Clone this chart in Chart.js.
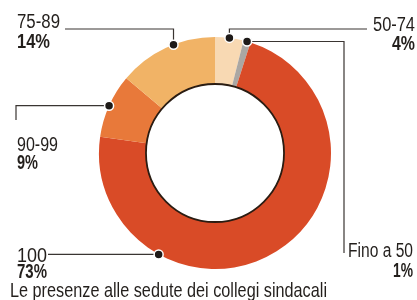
<!DOCTYPE html>
<html>
<head>
<meta charset="utf-8">
<script src="https://cdn.jsdelivr.net/npm/chart.js@4"></script>
<style>
  html,body{margin:0;padding:0;background:#fff;}
  #wrap{width:417px;height:300px;position:relative;}
</style>
</head>
<body>
<div id="wrap"><canvas id="chart" width="417" height="300"></canvas></div>
<script>
// data, clockwise from the top
const bands = ['50-74', 'Fino a 50', '100', '90-99', '75-89'];
const shares = [4, 1, 73, 9, 14];
const shareLabels = ['4%', '1%', '73%', '9%', '14%'];
const caption = 'Le presenze alle sedute dei collegi sindacali';

const sliceColors = ['#f8d9b3', '#aaa7a3', '#d94b27', '#e8793a', '#f1b366'];
const ink = '#231f1c';

// where each leader dot sits on its slice, and how the line runs to the label
const leaders = [
  {frac:0.5,  steps:[['v',29],['h',367]],  x:415, y1:31,  y2:50,  align:'right', w1:42, w2:23},
  {frac:0.5,  steps:[['h',344],['v',253]], x:413, y1:257, y2:277, align:'right', w1:65, w2:20},
  {frac:0.735,steps:[['h',48]],            x:17,  y1:262, y2:278, align:'left',  w1:30, w2:30},
  {frac:0.5,  steps:[['h',16],['v',120]],  x:17,  y1:151, y2:169, align:'left',  w1:41, w2:21},
  {frac:0.58, steps:[['v',29],['h',65]],   x:17,  y1:28,  y2:48,  align:'left',  w1:43, w2:33}
];

function squeezeText(ctx, str, x, y, font, align, width){
  ctx.save();
  ctx.font = font;
  const natural = ctx.measureText(str).width;
  const sx = width / natural;
  ctx.translate(x, y);
  ctx.scale(sx, 1);
  ctx.textAlign = align;
  ctx.textBaseline = 'alphabetic';
  ctx.fillStyle = ink;
  ctx.fillText(str, 0, 0);
  ctx.restore();
}

const decor = {
  id: 'decor',
  afterDatasetsDraw(chart){
    const ctx = chart.ctx;
    const meta = chart.getDatasetMeta(0);
    const a0 = meta.data[0];
    const cx = a0.x, cy = a0.y;

    // dark rim on the inside of the ring
    ctx.save();
    ctx.beginPath();
    ctx.arc(cx, cy, a0.innerRadius, 0, Math.PI*2);
    ctx.lineWidth = 1.8;
    ctx.strokeStyle = '#2a1c12';
    ctx.stroke();
    ctx.restore();

    const dots = [];
    leaders.forEach((l, i) => {
      const arc = meta.data[i];
      const ang = arc.startAngle + l.frac*(arc.endAngle - arc.startAngle);
      const px = cx + arc.outerRadius*Math.cos(ang);
      const py = cy + arc.outerRadius*Math.sin(ang);
      ctx.save();
      ctx.beginPath();
      ctx.moveTo(px, py);
      let x = px, y = py;
      l.steps.forEach(s => {
        if(s[0]==='h') x = s[1]; else y = s[1];
        ctx.lineTo(x, y);
      });
      ctx.lineWidth = 1.2;
      ctx.strokeStyle = '#3a3532';
      ctx.stroke();
      ctx.restore();
      dots.push([px, py]);

      squeezeText(ctx, bands[i], l.x, l.y1, '20px "Liberation Sans"', l.align, l.w1);
      squeezeText(ctx, shareLabels[i], l.x, l.y2, 'bold 20px "Liberation Sans"', l.align, l.w2);
    });

    dots.forEach(d => {
      ctx.save();
      ctx.beginPath();
      ctx.arc(d[0], d[1], 4.5, 0, Math.PI*2);
      ctx.fillStyle = '#1e1a18';
      ctx.fill();
      ctx.lineWidth = 1.5;
      ctx.strokeStyle = '#fff';
      ctx.stroke();
      ctx.restore();
    });

    squeezeText(ctx, caption, 10, 297, '21px "Liberation Sans"', 'left', 317);
  }
};

new Chart(document.getElementById('chart').getContext('2d'), {
  type: 'doughnut',
  data: {
    labels: bands,
    datasets: [{
      data: shares,
      backgroundColor: sliceColors,
      borderWidth: 0,
      hoverOffset: 0
    }]
  },
  options: {
    responsive: false,
    animation: false,
    radius: 116,
    cutout: '59.5%',
    rotation: 0,
    layout: {padding: {left: 60, right: 47, top: 20, bottom: 14}},
    plugins: {legend: {display: false}, tooltip: {enabled: false}}
  },
  plugins: [decor]
});
</script>
</body>
</html>
